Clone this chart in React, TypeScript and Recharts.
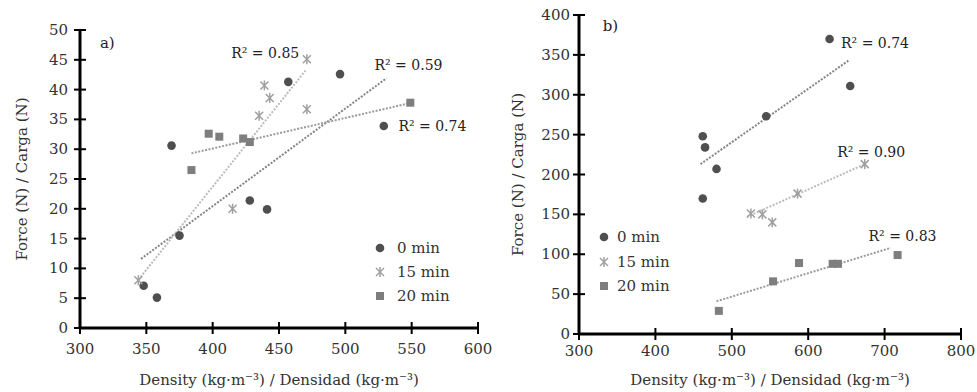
import { Legend, ReferenceDot, ReferenceLine, Scatter, ScatterChart, XAxis, YAxis } from 'recharts';

const FONT = '"DejaVu Serif", "Liberation Serif", serif';

// panel a) density vs force
const a0min = [
  { d: 348, f: 7.1 }, { d: 358, f: 5.1 }, { d: 369, f: 30.6 }, { d: 375, f: 15.5 },
  { d: 428, f: 21.4 }, { d: 441, f: 19.9 }, { d: 457, f: 41.3 }, { d: 496, f: 42.6 },
  { d: 529, f: 33.9 },
];
const a15min = [
  { d: 344, f: 8.0 }, { d: 415, f: 20.0 }, { d: 435, f: 35.6 }, { d: 439, f: 40.7 },
  { d: 443, f: 38.6 }, { d: 471, f: 45.1 }, { d: 471, f: 36.7 },
];
const a20min = [
  { d: 384, f: 26.5 }, { d: 397, f: 32.6 }, { d: 405, f: 32.1 }, { d: 423, f: 31.8 },
  { d: 428, f: 31.2 }, { d: 549, f: 37.8 },
];
const aTrend0 = [{ d: 346, f: 11.6 }, { d: 531, f: 41.9 }];
const aTrend15 = [{ d: 344, f: 8.1 }, { d: 470, f: 43.2 }];
const aTrend20 = [{ d: 384, f: 29.3 }, { d: 548, f: 37.7 }];

// panel b)
const b0min = [
  { d: 462, f: 248 }, { d: 465, f: 234 }, { d: 480, f: 207 }, { d: 462, f: 170 },
  { d: 545, f: 273 }, { d: 628, f: 370 }, { d: 655, f: 311 },
];
const b15min = [
  { d: 525, f: 151 }, { d: 540, f: 150 }, { d: 553, f: 140 }, { d: 586, f: 176 },
  { d: 674, f: 213 },
];
const b20min = [
  { d: 483, f: 29 }, { d: 554, f: 66 }, { d: 588, f: 89 }, { d: 632, f: 88 },
  { d: 639, f: 88 }, { d: 717, f: 99 },
];
const bTrend0 = [{ d: 459, f: 213 }, { d: 653, f: 343 }];
const bTrend15 = [{ d: 520, f: 147 }, { d: 674, f: 213 }];
const bTrend20 = [{ d: 480, f: 41 }, { d: 708, f: 108 }];

const seriesNames = ['0 min', '15 min', '20 min'];
const r2A = ['R² = 0.59', 'R² = 0.85', 'R² = 0.74'];
const r2B = ['R² = 0.74', 'R² = 0.90', 'R² = 0.83'];

const ticksAX = [300, 350, 400, 450, 500, 550, 600];
const ticksAY = [0, 5, 10, 15, 20, 25, 30, 35, 40, 45, 50];
const ticksBX = [300, 400, 500, 600, 700, 800];
const ticksBY = [0, 50, 100, 150, 200, 250, 300, 350, 400];

const xTitle = 'Density (kg·m⁻³) / Densidad (kg·m⁻³)';
const yTitle = 'Force (N) / Carga (N)';

const AXIS = '#000000';

const Dot0 = ({ cx, cy }: any) => <circle cx={cx} cy={cy} r={4.3} fill="#4f4f4f" />;
const Star15 = ({ cx, cy }: any) => (
  <g stroke="#9f9f9f" strokeWidth={1.5}>
    <line x1={cx - 4} y1={cy - 4} x2={cx + 4} y2={cy + 4} />
    <line x1={cx - 4} y1={cy + 4} x2={cx + 4} y2={cy - 4} />
    <line x1={cx} y1={cy - 5} x2={cx} y2={cy + 5} />
  </g>
);
const Square20 = ({ cx, cy }: any) => (
  <rect x={cx - 4} y={cy - 4} width={8} height={8} fill="#7e7e7e" />
);
const shapes = [Dot0, Star15, Square20];

// ticks cross the axis line, like the original
const makeXTick = (gap: number) => (props: any) => {
  const { x, y, payload } = props;
  return (
    <g>
      <rect x={x - 1} y={y - 6} width={2} height={12} fill={AXIS} />
      <text x={x} y={y + gap} textAnchor="middle" fontFamily={FONT} fontSize={15} fill="#333">
        {payload.value}
      </text>
    </g>
  );
};

const makeYTick = (gap: number) => (props: any) => {
  const { x, y, payload } = props;
  return (
    <g>
      <rect x={x - 6} y={y - 1} width={12} height={2} fill={AXIS} />
      <text x={x - gap} y={y + 5} textAnchor="end" fontFamily={FONT} fontSize={15} fill="#333">
        {payload.value}
      </text>
    </g>
  );
};

const LegendBox = ({ gap, row }: { gap: number; row: number }) => (
  <div style={{ fontFamily: FONT, fontSize: 15, color: '#333' }}>
    {seriesNames.map((n, i) => {
      const Shape = shapes[i];
      return (
        <div key={n} style={{ display: 'flex', alignItems: 'center', height: row }}>
          <svg width={16} height={16}>
            <Shape cx={8} cy={8} />
          </svg>
          <span style={{ marginLeft: gap }}>{n}</span>
        </div>
      );
    })}
  </div>
);

const textAt = (value: string, size = 14) => (p: any) => (
  <text x={p.cx} y={p.cy + 5} fontFamily={FONT} fontSize={size} fill="#222">
    {value}
  </text>
);

const trendColors = ['#858585', '#bcbcbc', '#9c9c9c'];

const Panel = (props: any) => {
  const {
    width, margin, yAxisWidth, xAxisHeight, xDomain, xTicks, yDomain, yTicks,
    series, trends, r2, r2Pos, tag, tagPos, legendPos, yLabelOffset, xGap, yGap,
  } = props;
  return (
    <ScatterChart width={width} height={392} margin={margin}>
      <XAxis
        type="number"
        dataKey="d"
        domain={xDomain}
        ticks={xTicks}
        interval={0}
        tickSize={0}
        tickMargin={0}
        height={xAxisHeight}
        axisLine={false}
        tick={makeXTick(xGap)}
        label={{
          value: xTitle,
          position: 'insideBottom',
          offset: 3,
          fontFamily: FONT,
          fontSize: 15,
          fill: '#333',
        }}
      />
      <YAxis
        type="number"
        dataKey="f"
        domain={yDomain}
        ticks={yTicks}
        interval={0}
        tickSize={0}
        tickMargin={0}
        width={yAxisWidth}
        axisLine={false}
        tick={makeYTick(yGap)}
        label={{
          value: yTitle,
          angle: -90,
          position: 'insideLeft',
          offset: yLabelOffset,
          fontFamily: FONT,
          fontSize: 15,
          fill: '#333',
          style: { textAnchor: 'middle' },
        }}
      />
      <ReferenceLine x={xDomain[0]} stroke={AXIS} strokeWidth={3} />
      <ReferenceLine y={yDomain[0]} stroke={AXIS} strokeWidth={3} />
      {trends.map((t: any[], i: number) => (
        <ReferenceLine
          key={'t' + i}
          segment={[{ x: t[0].d, y: t[0].f }, { x: t[1].d, y: t[1].f }]}
          stroke={trendColors[i]}
          strokeWidth={2}
          strokeDasharray="2 1.5"
        />
      ))}
      {series.map((s: any[], i: number) => (
        <Scatter
          key={seriesNames[i]}
          name={seriesNames[i]}
          data={s}
          shape={shapes[i]}
          isAnimationActive={false}
        />
      ))}
      {r2.map((v: string, i: number) => (
        <ReferenceDot key={'r' + i} x={r2Pos[i][0]} y={r2Pos[i][1]} r={1} shape={textAt(v)} />
      ))}
      <ReferenceDot x={tagPos[0]} y={tagPos[1]} r={1} shape={textAt(tag, 15)} />
      <Legend
        layout="vertical"
        align="center"
        verticalAlign="middle"
        wrapperStyle={{ left: legendPos[0], top: legendPos[1], width: 'auto' }}
        content={() => <LegendBox gap={legendPos[2]} row={legendPos[3]} />}
      />
    </ScatterChart>
  );
};

const App = () => {
  return (
    <div style={{ position: 'absolute', left: 0, top: 0, width: 977, height: 392, background: '#fff' }}>
      <div style={{ position: 'absolute', left: 0, top: 0 }}>
        <Panel
          width={500}
          margin={{ top: 30, right: 22, bottom: 4, left: 5 }}
          yAxisWidth={75}
          xAxisHeight={60}
          xDomain={[300, 600]}
          xTicks={ticksAX}
          yDomain={[0, 50]}
          yTicks={ticksAY}
          series={[a0min, a15min, a20min]}
          trends={[aTrend0, aTrend15, aTrend20]}
          r2={r2A}
          r2Pos={[[522, 44.1], [414, 46.1], [540, 33.9]]}
          tag="a)"
          tagPos={[315, 47.8]}
          legendPos={[372, 236, 9, 24]}
          yLabelOffset={17}
          xGap={26}
          yGap={12}
        />
      </div>
      <div style={{ position: 'absolute', left: 500, top: 0 }}>
        <Panel
          width={477}
          margin={{ top: 15, right: 16, bottom: 4, left: 8 }}
          yAxisWidth={71}
          xAxisHeight={54}
          xDomain={[300, 800]}
          xTicks={ticksBX}
          yDomain={[0, 400]}
          yTicks={ticksBY}
          series={[b0min, b15min, b20min]}
          trends={[bTrend0, bTrend15, bTrend20]}
          r2={r2B}
          r2Pos={[[643, 365], [638, 228], [679, 123]]}
          tag="b)"
          tagPos={[331, 386]}
          legendPos={[96, 225, 5, 24.5]}
          yLabelOffset={10}
          xGap={22}
          yGap={9}
        />
      </div>
    </div>
  );
};

export default App;
